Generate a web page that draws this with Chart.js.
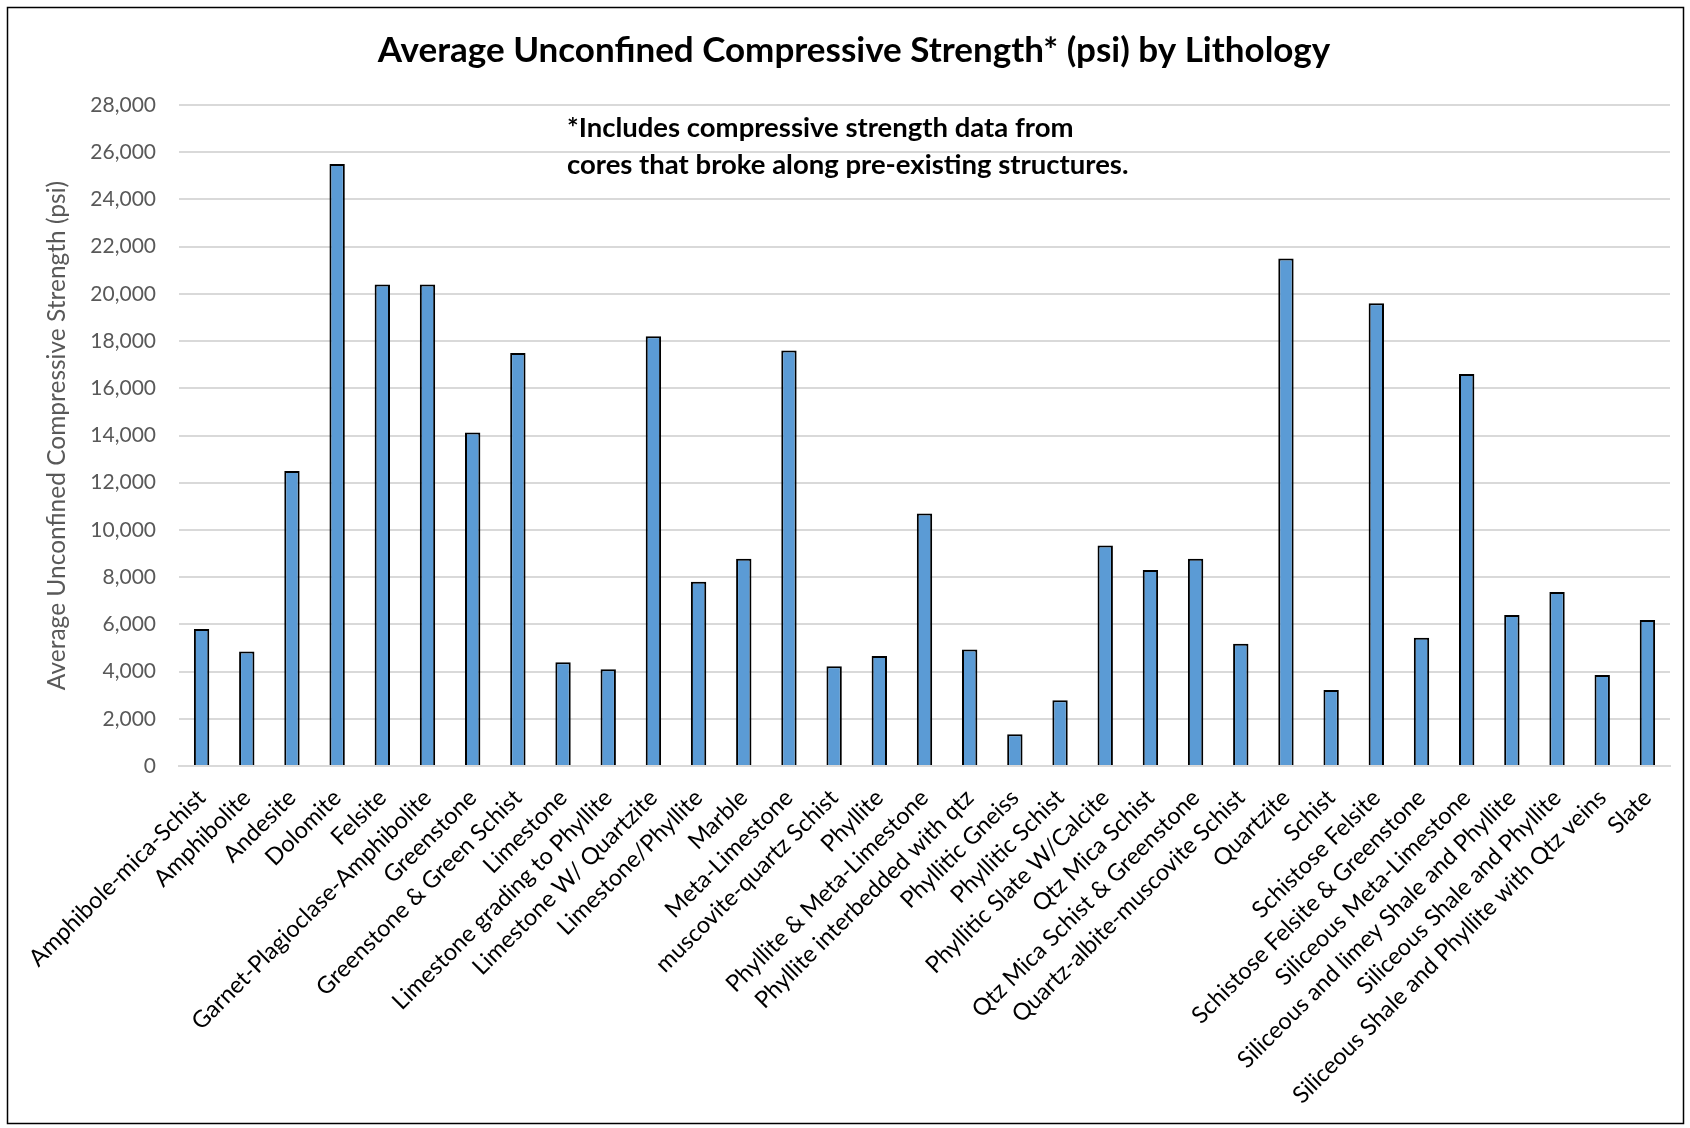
<!DOCTYPE html>
<html>
<head>
<meta charset="utf-8">
<script src="https://cdn.jsdelivr.net/npm/chart.js"></script>
<style>
  html, body { margin: 0; padding: 0; background: #ffffff; }
</style>
</head>
<body>
<canvas id="ucs" width="1690" height="1128"></canvas>
<script>
// data
const lithologies = [
  'Amphibole-mica-Schist', 'Amphibolite', 'Andesite', 'Dolomite', 'Felsite',
  'Garnet-Plagioclase-Amphibolite', 'Greenstone', 'Greenstone & Green Schist',
  'Limestone', 'Limestone grading to Phyllite', 'Limestone W/ Quartzite',
  'Limestone/Phyllite', 'Marble', 'Meta-Limestone', 'muscovite-quartz Schist',
  'Phyllite', 'Phyllite & Meta-Limestone', 'Phyllite interbedded with qtz',
  'Phyllitic Gneiss', 'Phyllitic Schist', 'Phyllitic Slate W/Calcite',
  'Qtz Mica Schist', 'Qtz Mica Schist & Greenstone', 'Quartz-albite-muscovite Schist',
  'Quartzite', 'Schist', 'Schistose Felsite', 'Schistose Felsite & Greenstone',
  'Siliceous Meta-Limestone', 'Siliceous and limey Shale and Phyllite',
  'Siliceous Shale and Phyllite', 'Siliceous Shale and Phyllite with Qtz veins', 'Slate'
];

const avgStrengthPsi = [
  5800, 4850, 12500, 25500, 20400,
  20400, 14130, 17500,
  4400, 4100, 18200,
  7800, 8780, 17600, 4230,
  4660, 10700, 4940,
  1340, 2780, 9340,
  8300, 8780, 5180,
  21500, 3220, 19600, 5430,
  16600, 6400,
  7370, 3860, 6180
];

const yMin = 0;
const yMax = 28000;
const yStep = 2000;

const chartTitle = 'Average Unconfined Compressive Strength* (psi) by Lithology';
const yAxisTitle = 'Average Unconfined Compressive Strength (psi)';
const footnoteLines = [
  '*Includes compressive strength data from',
  'cores that broke along pre-existing structures.'
];

const FONT = 'Lato, "Open Sans", sans-serif';

// frame, title and footnote are drawn straight on the canvas
const decorations = {
  id: 'decorations',
  afterDraw(chart) {
    const ctx = chart.ctx;
    ctx.save();
    ctx.strokeStyle = '#000000';
    ctx.lineWidth = 1.5;
    ctx.strokeRect(7.5, 7.5, 1676, 1116);

    ctx.fillStyle = '#000000';
    ctx.textBaseline = 'middle';
    ctx.textAlign = 'center';
    ctx.font = 'bold 35px ' + FONT;
    ctx.fillText(chartTitle, 854, 51);

    ctx.textAlign = 'left';
    ctx.font = 'bold 27.5px ' + FONT;
    ctx.fillText(footnoteLines[0], 567, 128);
    ctx.fillText(footnoteLines[1], 567, 165);
    ctx.restore();
  }
};

new Chart(document.getElementById('ucs').getContext('2d'), {
  type: 'bar',
  data: {
    labels: lithologies,
    datasets: [{
      label: 'Average UCS (psi)',
      data: avgStrengthPsi,
      backgroundColor: '#5B9BD5',
      borderColor: '#000000',
      borderWidth: 2,
      categoryPercentage: 1.0,
      barPercentage: 0.34
    }]
  },
  options: {
    responsive: false,
    animation: false,
    layout: { padding: { top: 105, left: 8, right: 20, bottom: 8 } },
    plugins: {
      legend: { display: false },
      tooltip: { enabled: false }
    },
    scales: {
      x: {
        grid: { display: false },
        border: { color: '#D9D9D9', width: 2 },
        ticks: {
          autoSkip: false,
          maxRotation: 45,
          minRotation: 45,
          padding: 10,
          color: '#000000',
          font: { family: FONT, size: 23.5 }
        },
        afterFit(scale) { scale.height = 354; }
      },
      y: {
        min: yMin,
        max: yMax,
        ticks: {
          stepSize: yStep,
          padding: 23,
          color: '#595959',
          font: { family: FONT, size: 21 },
          callback: v => v.toLocaleString('en-US')
        },
        grid: { color: '#D9D9D9', lineWidth: 2, drawTicks: false },
        border: { display: false },
        title: {
          display: true,
          text: yAxisTitle,
          color: '#595959',
          font: { family: FONT, size: 24.5 },
          padding: { top: 34, bottom: 0 }
        },
        afterFit(scale) { scale.width = 171; }
      }
    }
  },
  plugins: [decorations]
});
</script>
</body>
</html>
